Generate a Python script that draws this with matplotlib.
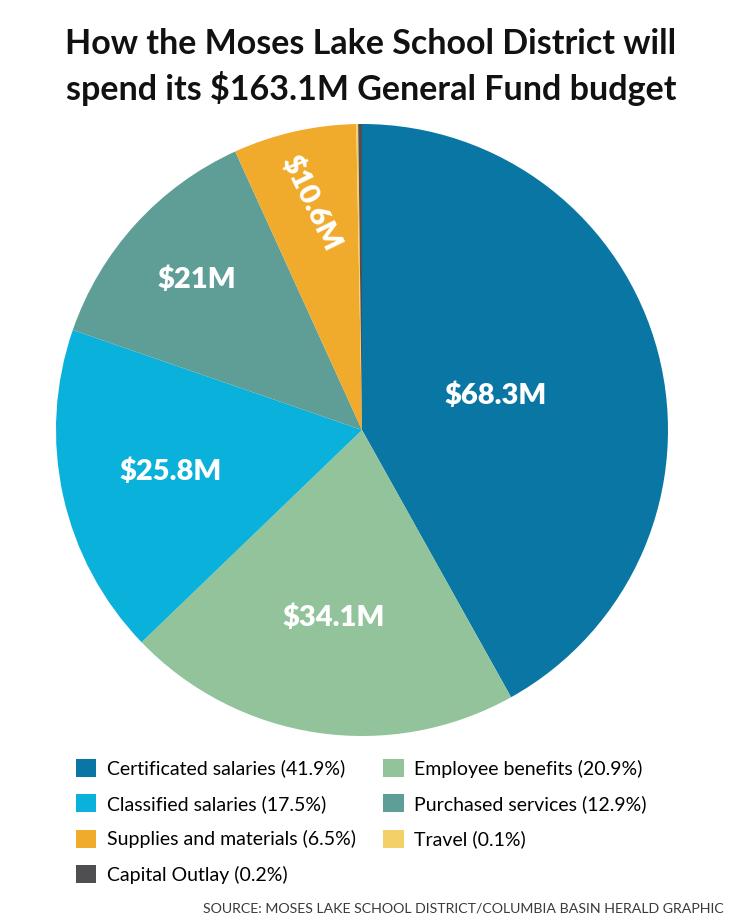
import matplotlib.pyplot as plt
from matplotlib.patches import Patch
import numpy as np

# Budget categories, clockwise from 12 o'clock
categories = ['Certificated salaries', 'Employee benefits', 'Classified salaries',
              'Purchased services', 'Supplies and materials', 'Travel', 'Capital Outlay']
percents = [41.9, 20.9, 17.5, 12.9, 6.5, 0.1, 0.2]
amounts = ['$68.3M', '$34.1M', '$25.8M', '$21M', '$10.6M', '', '']
colors = ['#0a76a3', '#92c39b', '#0ab1da', '#5f9e96', '#f0aa2c', '#f4d168', '#4f4f51']

# Order the legend is read in (left column first)
legend_order = [0, 2, 4, 6, 1, 3, 5]

plt.rcParams['font.family'] = ['Lato', 'DejaVu Sans']

fig = plt.figure(figsize=(7.42, 9.22), dpi=100)
ax = fig.add_axes([56 / 742, 1 - 736 / 922, 612 / 742, 612 / 922])

wedges, _ = ax.pie(percents, colors=colors, startangle=90, counterclock=False,
                   radius=1, wedgeprops=dict(linewidth=0))
ax.set_xlim(-1, 1)
ax.set_ylim(-1, 1)
ax.set_aspect('equal')
ax.axis('off')

# Value labels inside the slices
label_dist = [0.45, 0.62, 0.64, 0.73, 0.76, 0, 0]
label_rot = [0, 0, 0, 0, -64, 0, 0]
for w, txt, d, rot in zip(wedges, amounts, label_dist, label_rot):
    if not txt:
        continue
    mid = np.deg2rad((w.theta1 + w.theta2) / 2)
    ax.text(d * np.cos(mid), d * np.sin(mid), txt, ha='center', va='center',
            color='white', fontsize=21, fontweight='heavy', rotation=rot)

# Title
fig.text(0.5, 1 - 67 / 922, 'How the Moses Lake School District will\nspend its $163.1M General Fund budget',
         ha='center', va='center', fontsize=24.5, fontweight='bold', color='#111111',
         linespacing=1.35)

# Legend
handles = [Patch(facecolor=colors[i], edgecolor='none') for i in legend_order]
labels = [f'{categories[i]} ({percents[i]}%)' for i in legend_order]
fig.legend(handles, labels, ncol=2, loc='upper left', bbox_to_anchor=(76 / 742, 1 - 759 / 922),
           frameon=False, fontsize=14, handlelength=1.05, handleheight=1.05,
           handletextpad=0.55, labelspacing=0.86, columnspacing=1.4, borderaxespad=0,
           borderpad=0)

# Source line
fig.text(724 / 742, 1 - 908 / 922, 'SOURCE: MOSES LAKE SCHOOL DISTRICT/COLUMBIA BASIN HERALD GRAPHIC',
         ha='right', va='center', fontsize=10.2, color='#3a3a3a')

fig.savefig('out.png', dpi=100)
